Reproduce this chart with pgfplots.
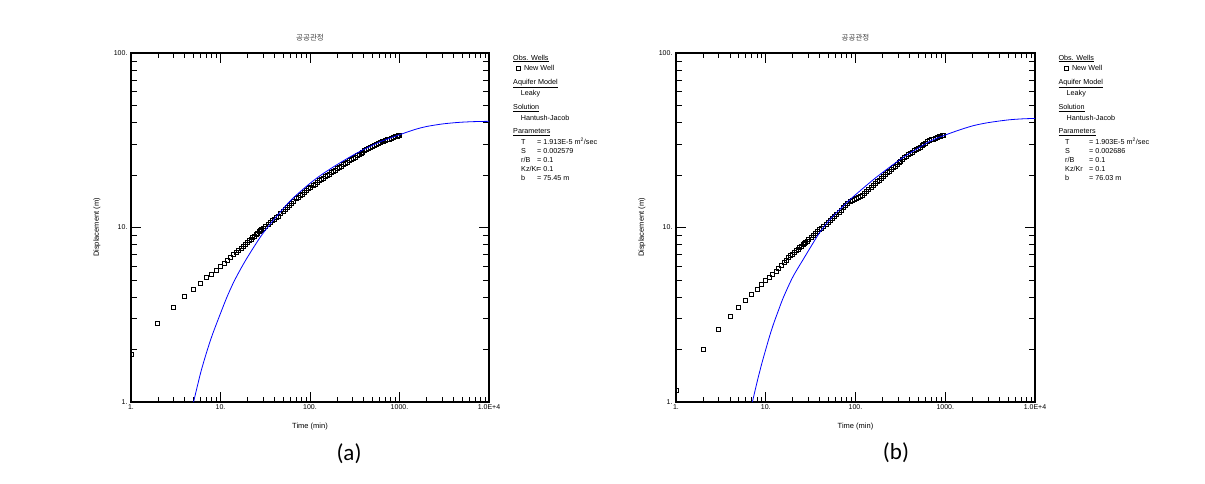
\documentclass[border=0pt]{standalone}
\usepackage{pgfplots}
\usepackage{pgfplotstable}
\pgfplotsset{compat=1.18}
\usepackage{fontspec}
\setmainfont{Liberation Sans}
\newfontfamily\cjk{Noto Sans CJK KR}
\newfontfamily\calib{Carlito}

\pgfplotstableread{
t y
1 1.88
2 2.83
3 3.47
4 4.01
5 4.43
6 4.76
7 5.16
8 5.41
9 5.71
10 6.02
11 6.21
12 6.49
13 6.71
14 6.98
15 7.20
16 7.42
17 7.63
18 7.84
19 8.03
20 8.22
21 8.41
22 8.59
23 8.77
24 8.94
25 9.11
26 9.28
27 9.44
28 9.60
29 9.76
30 9.91
32 10.18
34 10.44
36 10.70
38 10.94
40 11.18
42 11.41
44 11.64
47 11.97
50 12.34
53 12.72
56 13.07
59 13.44
62 13.78
66 14.19
70 14.60
74 14.94
78 15.26
82 15.57
87 15.94
92 16.29
97 16.64
102 16.98
108 17.38
114 17.75
120 18.12
127 18.54
134 18.94
141 19.22
149 19.58
157 19.92
165 20.27
174 20.63
183 20.98
193 21.35
203 21.72
214 22.11
225 22.49
237 22.88
249 23.27
262 23.67
276 24.08
290 24.49
305 24.90
320 25.32
336 25.73
353 26.16
371 26.60
390 27.05
410 27.51
430 27.96
452 28.42
475 28.77
499 29.17
524 29.55
550 29.96
578 30.37
607 30.73
637 30.98
669 31.26
702 31.54
737 31.83
774 32.12
812 32.44
852 32.76
894 33.08
938 33.41
985 33.78
1000 33.90
}\dataA

\pgfplotstableread{
t y
5 1.0
6 1.47
7 1.93
8 2.38
9 2.80
10 3.22
11.7 3.95
14 4.85
17 5.85
20 6.75
25 8.1
30 9.3
40 11.2
50 12.8
57 13.8
70 15.3
100 17.9
135 20.1
200 22.9
300 25.9
400 28.0
600 30.9
1000 34.0
1500 36.5
2000 37.9
3000 39.2
4500 40.0
6500 40.4
10000 40.6
}\curveA

\pgfplotstableread{
t y
1 1.16
2 2.00
3 2.60
4 3.08
5 3.47
6 3.81
7 4.12
8 4.40
9 4.70
10 4.96
11 5.16
12 5.41
13 5.63
14 5.84
15 6.07
16 6.32
17 6.51
18 6.71
19 6.88
20 7.04
21 7.20
22 7.36
23 7.51
24 7.66
25 7.80
26 7.95
27 8.09
28 8.22
29 8.36
30 8.49
32 8.74
34 8.99
36 9.23
38 9.46
40 9.69
42 9.90
44 10.10
47 10.39
50 10.67
53 10.94
56 11.20
59 11.51
62 11.82
66 12.21
70 12.60
74 12.98
78 13.34
82 13.70
87 14.14
92 14.35
97 14.50
102 14.65
108 14.80
114 15.00
120 15.30
127 15.70
134 16.11
141 16.51
149 16.95
157 17.38
165 17.80
174 18.26
183 18.71
193 19.19
203 19.66
214 20.14
225 20.58
237 21.06
249 21.52
262 22.01
276 22.52
290 23.02
305 23.53
320 24.04
336 24.56
353 25.09
371 25.65
390 26.13
410 26.58
430 27.02
452 27.49
475 27.96
499 28.44
524 28.92
550 29.41
578 29.91
607 30.42
637 30.93
669 31.46
702 31.86
737 32.17
774 32.48
812 32.79
852 33.10
894 33.42
938 33.73
962 33.90
}\dataB

\pgfplotstableread{
t y
7.1 1.0
8 1.30
9 1.65
10 2.00
11 2.37
12.2 2.80
14 3.40
15.8 4.0
20 5.2
26.3 6.6
32 7.8
39 9.2
48 10.6
57 11.7
70 13.0
87.5 14.5
120 16.7
160 18.9
206 20.9
280 23.5
376 26.1
500 28.5
700 31.5
1050 34.2
1480 36.4
2080 38.4
3000 39.9
4900 41.3
7000 41.9
10000 42.2
}\curveB

\newcommand{\legfont}{\fontsize{7.2}{8}\selectfont}
\newcommand{\sq}{\tikz\draw[line width=0.7pt] (0,0) rectangle (3.6pt,3.6pt);}

\begin{document}
\begin{tikzpicture}
\path[use as bounding box] (0,0) rectangle (1205pt,483pt);

\pgfplotsset{
  every axis/.append style={
    scale only axis, height=349pt,
    xmin=1, xmax=10000, ymin=1, ymax=100,
    xtick={1,10,100,1000,10000}, xticklabels={1.,10.,100.,1000.,1.0E+4},
    ytick={1,10,100}, yticklabels={1.,10.,100.},
    extra x ticks={2,3,4,5,6,7,8,9,20,30,40,50,60,70,80,90,200,300,400,500,600,700,800,900,2000,3000,4000,5000,6000,7000,8000,9000},
    extra x tick labels={},
    extra x tick style={major tick length=5pt},
    extra y ticks={2,3,4,5,6,7,8,9,20,30,40,50,60,70,80,90},
    extra y tick labels={},
    extra y tick style={major tick length=6.5pt},
    tick align=inside, major tick length=10pt,
    axis line style={line width=1.2pt},
    every tick/.style={black, line width=0.8pt},
    tick label style={font=\fontsize{7}{8}\selectfont},
    xticklabel style={yshift=1pt},
    xlabel={Time (min)}, ylabel={Displacement (m)},
    label style={font=\fontsize{7.5}{8}\selectfont},
    xlabel style={at={(axis description cs:0.5,-0.07)}, anchor=center},
    ylabel style={at={(axis description cs:-0.095,0.5)}, anchor=center},
    title={\cjk 공공관정},
    title style={font=\fontsize{7.5}{8}\selectfont, color=black!75, at={(axis description cs:0.5,1.026)}, anchor=center},
    clip marker paths=true,
  },
}

\begin{loglogaxis}[width=358pt, at={(131pt,81pt)}, anchor=south west]
\addplot[only marks, mark=square, mark size=2pt, mark options={line width=0.9pt, black}] table[x=t,y=y] {\dataA};
\addplot[blue, line width=0.8pt, smooth, no marks] table[x=t,y=y] {\curveA};
\end{loglogaxis}

\begin{loglogaxis}[width=359pt, at={(676pt,81pt)}, anchor=south west]
\addplot[only marks, mark=square, mark size=2pt, mark options={line width=0.9pt, black}] table[x=t,y=y] {\dataB};
\addplot[blue, line width=0.8pt, smooth, no marks] table[x=t,y=y] {\curveB};
\end{loglogaxis}

\begin{scope}[every node/.style={anchor=base west, inner sep=0pt, font=\legfont}]
\node at (513pt,422.8pt) {\underline{Obs. Wells}};
\node at (516pt,412.2pt) {\sq\hspace{3.5pt}New Well};
\node at (513pt,398.2pt) {\underline{Aquifer Model}};
\node at (520.7pt,387.2pt) {Leaky};
\node at (513pt,373.5pt) {\underline{Solution}};
\node at (520.7pt,362.8pt) {Hantush-Jacob};
\node at (513pt,349.5pt) {\underline{Parameters}};
\node at (521pt,338.2pt) {T};
\node at (521pt,329.2pt) {S};
\node at (521pt,320.2pt) {r/B};
\node at (521pt,311.2pt) {Kz/Kr};
\node at (521pt,302.2pt) {b};
\node at (537pt,338.2pt) {= 1.913E-5 m\textsuperscript{2}/sec};
\node at (537pt,329.2pt) {= 0.002579};
\node at (537pt,320.2pt) {= 0.1};
\node at (537pt,311.2pt) {= 0.1};
\node at (537pt,302.2pt) {= 75.45 m};
\node at (1058.3pt,422.8pt) {\underline{Obs. Wells}};
\node at (1064pt,412.2pt) {\sq\hspace{3.5pt}New Well};
\node at (1058.3pt,398.2pt) {\underline{Aquifer Model}};
\node at (1066.5pt,387.2pt) {Leaky};
\node at (1058.3pt,373.5pt) {\underline{Solution}};
\node at (1066.5pt,362.8pt) {Hantush-Jacob};
\node at (1058.3pt,349.5pt) {\underline{Parameters}};
\node at (1065pt,338.2pt) {T};
\node at (1065pt,329.2pt) {S};
\node at (1065pt,320.2pt) {r/B};
\node at (1065pt,311.2pt) {Kz/Kr};
\node at (1065pt,302.2pt) {b};
\node at (1089pt,338.2pt) {= 1.903E-5 m\textsuperscript{2}/sec};
\node at (1089pt,329.2pt) {= 0.002686};
\node at (1089pt,320.2pt) {= 0.1};
\node at (1089pt,311.2pt) {= 0.1};
\node at (1089pt,302.2pt) {= 76.03 m};
\end{scope}

\node[font=\calib\fontsize{23}{26}\selectfont] at (349pt,29pt) {(a)};
\node[font=\calib\fontsize{23}{26}\selectfont] at (896pt,30pt) {(b)};
\end{tikzpicture}
\end{document}
